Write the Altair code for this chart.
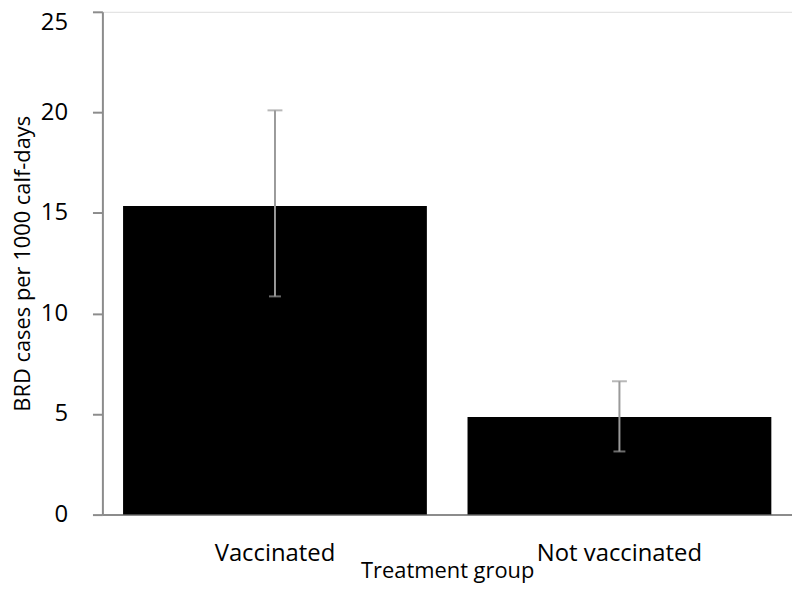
import altair as alt
import pandas as pd

groups = ["Vaccinated", "Not vaccinated"]
rates = [15.35, 4.85]
lower = [10.85, 3.14]
upper = [20.1, 6.63]

df = pd.DataFrame({"group": groups, "rate": rates, "lo": lower, "hi": upper})

font = "Open Sans"
ysc = alt.Scale(domain=[0, 25], nice=False, zero=True)
xs = alt.X("group:N", sort=groups)
axis_grey = "#8c8c8c"

x = alt.X(
    "group:N",
    sort=groups,
    title="Treatment group",
    scale=alt.Scale(paddingInner=0.118, paddingOuter=0.06),
    axis=alt.Axis(
        labelAngle=0, ticks=False, domainColor=axis_grey, domainWidth=2,
        labelFontSize=24, labelFont=font, labelColor="#000", labelPadding=27,
        titleFontSize=22, titleFont=font, titleFontWeight="normal", titleColor="#000",
        titlePadding=-5,
    ),
)

bars = alt.Chart(df).mark_bar(color="#000000").encode(
    x=x,
    y=alt.Y(
        "rate:Q",
        title="BRD cases per 1000 calf-days",
        scale=ysc,
        axis=alt.Axis(
            values=[0, 5, 10, 15, 20, 25], grid=False, tickSize=10,
            tickColor=axis_grey, tickWidth=2, domainColor=axis_grey, domainWidth=2,
            labelFontSize=24, labelFont=font, labelColor="#000", labelPadding=25,
            labelOffset=alt.ExprRef("datum.value == 25 ? 11 : 0"),
            titleFontSize=22, titleFont=font, titleFontWeight="normal", titleColor="#000",
            titlePadding=6,
        ),
    ),
)

err = alt.Chart(df).mark_rule(color="#9a9a9a", strokeWidth=2).encode(
    x=xs, y=alt.Y("lo:Q", scale=ysc), y2="hi:Q",
)

cap_hi = alt.Chart(df).mark_tick(color="#9a9a9a", thickness=2, size=15, orient="horizontal").encode(
    x=xs, y=alt.Y("hi:Q", scale=ysc)
)
cap_lo = alt.Chart(df).mark_tick(color="#9a9a9a", thickness=2, size=12, orient="horizontal").encode(
    x=xs, y=alt.Y("lo:Q", scale=ysc)
)

chart = alt.layer(bars, err, cap_hi, cap_lo).properties(
    width=694, height=506,
    autosize=alt.AutoSizeParams(type="none"),
    padding={"left": 95, "top": 2, "right": 0, "bottom": 68},
).configure_view(strokeOpacity=0, strokeWidth=0).configure(background="white")

chart.save("out.html", embed_options={"renderer": "svg", "actions": False})
